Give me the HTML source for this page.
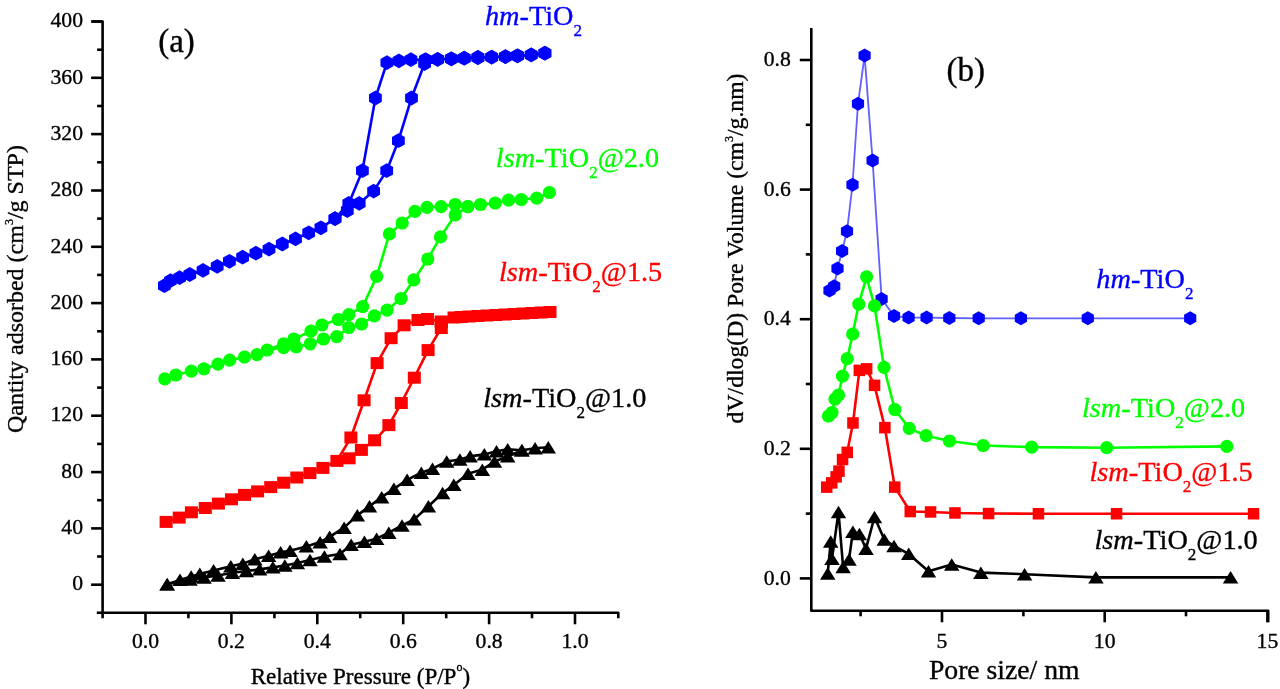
<!DOCTYPE html>
<html><head><meta charset="utf-8"><style>
html,body{margin:0;padding:0;background:#fff;width:1280px;height:689px;overflow:hidden;}
svg{display:block;filter:blur(0.4px);}
text{font-family:"Liberation Serif",serif;stroke:#000;stroke-width:0.35px;}
.tk{font-size:21.7px;}
</style></head><body>
<svg width="1280" height="689" viewBox="0 0 1280 689">
<rect width="1280" height="689" fill="#fff"/>
<path d="M91.6,21.5 L102.6,21.5 L102.6,618.3" fill="none" stroke="#000" stroke-width="2.6" stroke-linejoin="round"/>
<path d="M96.8,612.8 L618.3,612.8 L618.3,618.3" fill="none" stroke="#000" stroke-width="2.6" stroke-linejoin="round"/>
<line x1="91.1" y1="584.7" x2="102.6" y2="584.7" stroke="#000" stroke-width="2.6"/>
<text x="83" y="590.4" text-anchor="end" class="tk">0</text>
<line x1="91.1" y1="528.4" x2="102.6" y2="528.4" stroke="#000" stroke-width="2.6"/>
<text x="83" y="534.1" text-anchor="end" class="tk">40</text>
<line x1="91.1" y1="472.1" x2="102.6" y2="472.1" stroke="#000" stroke-width="2.6"/>
<text x="83" y="477.8" text-anchor="end" class="tk">80</text>
<line x1="91.1" y1="415.7" x2="102.6" y2="415.7" stroke="#000" stroke-width="2.6"/>
<text x="83" y="421.4" text-anchor="end" class="tk">120</text>
<line x1="91.1" y1="359.4" x2="102.6" y2="359.4" stroke="#000" stroke-width="2.6"/>
<text x="83" y="365.1" text-anchor="end" class="tk">160</text>
<line x1="91.1" y1="303.1" x2="102.6" y2="303.1" stroke="#000" stroke-width="2.6"/>
<text x="83" y="308.8" text-anchor="end" class="tk">200</text>
<line x1="91.1" y1="246.8" x2="102.6" y2="246.8" stroke="#000" stroke-width="2.6"/>
<text x="83" y="252.5" text-anchor="end" class="tk">240</text>
<line x1="91.1" y1="190.5" x2="102.6" y2="190.5" stroke="#000" stroke-width="2.6"/>
<text x="83" y="196.2" text-anchor="end" class="tk">280</text>
<line x1="91.1" y1="134.1" x2="102.6" y2="134.1" stroke="#000" stroke-width="2.6"/>
<text x="83" y="139.8" text-anchor="end" class="tk">320</text>
<line x1="91.1" y1="77.8" x2="102.6" y2="77.8" stroke="#000" stroke-width="2.6"/>
<text x="83" y="83.5" text-anchor="end" class="tk">360</text>
<line x1="91.1" y1="21.5" x2="102.6" y2="21.5" stroke="#000" stroke-width="2.6"/>
<text x="83" y="27.2" text-anchor="end" class="tk">400</text>
<line x1="97.1" y1="556.5" x2="102.6" y2="556.5" stroke="#000" stroke-width="2.6"/>
<line x1="97.1" y1="500.2" x2="102.6" y2="500.2" stroke="#000" stroke-width="2.6"/>
<line x1="97.1" y1="443.9" x2="102.6" y2="443.9" stroke="#000" stroke-width="2.6"/>
<line x1="97.1" y1="387.6" x2="102.6" y2="387.6" stroke="#000" stroke-width="2.6"/>
<line x1="97.1" y1="331.3" x2="102.6" y2="331.3" stroke="#000" stroke-width="2.6"/>
<line x1="97.1" y1="274.9" x2="102.6" y2="274.9" stroke="#000" stroke-width="2.6"/>
<line x1="97.1" y1="218.6" x2="102.6" y2="218.6" stroke="#000" stroke-width="2.6"/>
<line x1="97.1" y1="162.3" x2="102.6" y2="162.3" stroke="#000" stroke-width="2.6"/>
<line x1="97.1" y1="106" x2="102.6" y2="106" stroke="#000" stroke-width="2.6"/>
<line x1="97.1" y1="49.7" x2="102.6" y2="49.7" stroke="#000" stroke-width="2.6"/>
<line x1="145.5" y1="612.8" x2="145.5" y2="624.3" stroke="#000" stroke-width="2.6"/>
<text x="145.5" y="648.3" text-anchor="middle" class="tk">0.0</text>
<line x1="231.4" y1="612.8" x2="231.4" y2="624.3" stroke="#000" stroke-width="2.6"/>
<text x="231.4" y="648.3" text-anchor="middle" class="tk">0.2</text>
<line x1="317.3" y1="612.8" x2="317.3" y2="624.3" stroke="#000" stroke-width="2.6"/>
<text x="317.3" y="648.3" text-anchor="middle" class="tk">0.4</text>
<line x1="403.2" y1="612.8" x2="403.2" y2="624.3" stroke="#000" stroke-width="2.6"/>
<text x="403.2" y="648.3" text-anchor="middle" class="tk">0.6</text>
<line x1="489.1" y1="612.8" x2="489.1" y2="624.3" stroke="#000" stroke-width="2.6"/>
<text x="489.1" y="648.3" text-anchor="middle" class="tk">0.8</text>
<line x1="575" y1="612.8" x2="575" y2="624.3" stroke="#000" stroke-width="2.6"/>
<text x="575" y="648.3" text-anchor="middle" class="tk">1.0</text>
<line x1="188.4" y1="612.8" x2="188.4" y2="618.3" stroke="#000" stroke-width="2.6"/>
<line x1="274.4" y1="612.8" x2="274.4" y2="618.3" stroke="#000" stroke-width="2.6"/>
<line x1="360.2" y1="612.8" x2="360.2" y2="618.3" stroke="#000" stroke-width="2.6"/>
<line x1="446.2" y1="612.8" x2="446.2" y2="618.3" stroke="#000" stroke-width="2.6"/>
<line x1="532" y1="612.8" x2="532" y2="618.3" stroke="#000" stroke-width="2.6"/>
<path d="M811.3,28 L811.3,610.8 L1268.2,610.8 L1268.2,622.3" fill="none" stroke="#000" stroke-width="2.6" stroke-linejoin="round"/>
<line x1="799.8" y1="578.4" x2="811.3" y2="578.4" stroke="#000" stroke-width="2.6"/>
<text x="790.8" y="584.6" text-anchor="end" class="tk">0.0</text>
<line x1="799.8" y1="448.8" x2="811.3" y2="448.8" stroke="#000" stroke-width="2.6"/>
<text x="790.8" y="455" text-anchor="end" class="tk">0.2</text>
<line x1="799.8" y1="319.2" x2="811.3" y2="319.2" stroke="#000" stroke-width="2.6"/>
<text x="790.8" y="325.4" text-anchor="end" class="tk">0.4</text>
<line x1="799.8" y1="189.6" x2="811.3" y2="189.6" stroke="#000" stroke-width="2.6"/>
<text x="790.8" y="195.8" text-anchor="end" class="tk">0.6</text>
<line x1="799.8" y1="60" x2="811.3" y2="60" stroke="#000" stroke-width="2.6"/>
<text x="790.8" y="66.2" text-anchor="end" class="tk">0.8</text>
<line x1="805.8" y1="513.6" x2="811.3" y2="513.6" stroke="#000" stroke-width="2.6"/>
<line x1="805.8" y1="384" x2="811.3" y2="384" stroke="#000" stroke-width="2.6"/>
<line x1="805.8" y1="254.4" x2="811.3" y2="254.4" stroke="#000" stroke-width="2.6"/>
<line x1="805.8" y1="124.8" x2="811.3" y2="124.8" stroke="#000" stroke-width="2.6"/>
<line x1="942" y1="610.8" x2="942" y2="622.3" stroke="#000" stroke-width="2.6"/>
<text x="942" y="648" text-anchor="middle" class="tk">5</text>
<line x1="1104.7" y1="610.8" x2="1104.7" y2="622.3" stroke="#000" stroke-width="2.6"/>
<text x="1104.7" y="648" text-anchor="middle" class="tk">10</text>
<line x1="1267.4" y1="610.8" x2="1267.4" y2="622.3" stroke="#000" stroke-width="2.6"/>
<text x="1267.4" y="648" text-anchor="middle" class="tk">15</text>
<line x1="860.6" y1="610.8" x2="860.6" y2="616.3" stroke="#000" stroke-width="2.6"/>
<line x1="1023.4" y1="610.8" x2="1023.4" y2="616.3" stroke="#000" stroke-width="2.6"/>
<line x1="1186" y1="610.8" x2="1186" y2="616.3" stroke="#000" stroke-width="2.6"/>
<polyline points="164.4,285.7 170.5,280.6 179.6,277.6 189.8,274.5 203,270.4 217.2,266.4 229.4,261.3 242.6,257.2 255.9,253.2 269,249.1 282.3,244 295.5,238.9 308.7,232.8 320.9,227.8 335,218.6 348.8,203.4 362.4,170.7 375.4,98 386.9,62.6 398.9,60.9 410.9,59.6 425.5,59.8 437.6,59.4 451.3,58.8 464.2,58.2 477.9,57.5 491.7,57.1 505.4,56.6 517.5,55.8 531.2,54.9 544.9,53.2" fill="none" stroke="#0000ff" stroke-width="2.6" stroke-linejoin="round" stroke-linecap="round"/>
<polyline points="544.9,53.2 531.2,54.9 517.5,55.8 505.4,56.6 491.7,57.1 477.9,57.5 464.2,58.2 451.3,58.8 437.6,59.4 425.5,59.8 424.6,63.5 411.5,98 398.4,140.7 386.7,170.7 373.6,191.1 359.2,203.4 347.3,210.5 335,218.6" fill="none" stroke="#0000ff" stroke-width="2.6" stroke-linejoin="round" stroke-linecap="round"/>
<polygon points="164.4,278.3 158,282 158,289.4 164.4,293.1 170.8,289.4 170.8,282" fill="#0000ff"/>
<polygon points="170.5,273.2 164.1,276.9 164.1,284.3 170.5,288 176.9,284.3 176.9,276.9" fill="#0000ff"/>
<polygon points="179.6,270.2 173.2,273.9 173.2,281.3 179.6,285 186,281.3 186,273.9" fill="#0000ff"/>
<polygon points="189.8,267.1 183.4,270.8 183.4,278.2 189.8,281.9 196.2,278.2 196.2,270.8" fill="#0000ff"/>
<polygon points="203,263 196.6,266.7 196.6,274.1 203,277.8 209.4,274.1 209.4,266.7" fill="#0000ff"/>
<polygon points="217.2,259 210.8,262.7 210.8,270.1 217.2,273.8 223.6,270.1 223.6,262.7" fill="#0000ff"/>
<polygon points="229.4,253.9 223,257.6 223,265 229.4,268.7 235.8,265 235.8,257.6" fill="#0000ff"/>
<polygon points="242.6,249.8 236.2,253.5 236.2,260.9 242.6,264.6 249,260.9 249,253.5" fill="#0000ff"/>
<polygon points="255.9,245.8 249.5,249.5 249.5,256.9 255.9,260.6 262.3,256.9 262.3,249.5" fill="#0000ff"/>
<polygon points="269,241.7 262.6,245.4 262.6,252.8 269,256.5 275.4,252.8 275.4,245.4" fill="#0000ff"/>
<polygon points="282.3,236.6 275.9,240.3 275.9,247.7 282.3,251.4 288.7,247.7 288.7,240.3" fill="#0000ff"/>
<polygon points="295.5,231.5 289.1,235.2 289.1,242.6 295.5,246.3 301.9,242.6 301.9,235.2" fill="#0000ff"/>
<polygon points="308.7,225.4 302.3,229.1 302.3,236.5 308.7,240.2 315.1,236.5 315.1,229.1" fill="#0000ff"/>
<polygon points="320.9,220.4 314.5,224.1 314.5,231.5 320.9,235.2 327.3,231.5 327.3,224.1" fill="#0000ff"/>
<polygon points="335,211.2 328.6,214.9 328.6,222.3 335,226 341.4,222.3 341.4,214.9" fill="#0000ff"/>
<polygon points="348.8,196 342.4,199.7 342.4,207.1 348.8,210.8 355.2,207.1 355.2,199.7" fill="#0000ff"/>
<polygon points="362.4,163.3 356,167 356,174.4 362.4,178.1 368.8,174.4 368.8,167" fill="#0000ff"/>
<polygon points="375.4,90.6 369,94.3 369,101.7 375.4,105.4 381.8,101.7 381.8,94.3" fill="#0000ff"/>
<polygon points="386.9,55.2 380.5,58.9 380.5,66.3 386.9,70 393.3,66.3 393.3,58.9" fill="#0000ff"/>
<polygon points="398.9,53.5 392.5,57.2 392.5,64.6 398.9,68.3 405.3,64.6 405.3,57.2" fill="#0000ff"/>
<polygon points="410.9,52.2 404.5,55.9 404.5,63.3 410.9,67 417.3,63.3 417.3,55.9" fill="#0000ff"/>
<polygon points="425.5,52.4 419.1,56.1 419.1,63.5 425.5,67.2 431.9,63.5 431.9,56.1" fill="#0000ff"/>
<polygon points="437.6,52 431.2,55.7 431.2,63.1 437.6,66.8 444,63.1 444,55.7" fill="#0000ff"/>
<polygon points="451.3,51.4 444.9,55.1 444.9,62.5 451.3,66.2 457.7,62.5 457.7,55.1" fill="#0000ff"/>
<polygon points="464.2,50.8 457.8,54.5 457.8,61.9 464.2,65.6 470.6,61.9 470.6,54.5" fill="#0000ff"/>
<polygon points="477.9,50.1 471.5,53.8 471.5,61.2 477.9,64.9 484.3,61.2 484.3,53.8" fill="#0000ff"/>
<polygon points="491.7,49.7 485.3,53.4 485.3,60.8 491.7,64.5 498.1,60.8 498.1,53.4" fill="#0000ff"/>
<polygon points="505.4,49.2 499,52.9 499,60.3 505.4,64 511.8,60.3 511.8,52.9" fill="#0000ff"/>
<polygon points="517.5,48.4 511.1,52.1 511.1,59.5 517.5,63.2 523.9,59.5 523.9,52.1" fill="#0000ff"/>
<polygon points="531.2,47.5 524.8,51.2 524.8,58.6 531.2,62.3 537.6,58.6 537.6,51.2" fill="#0000ff"/>
<polygon points="544.9,45.8 538.5,49.5 538.5,56.9 544.9,60.6 551.3,56.9 551.3,49.5" fill="#0000ff"/>
<polygon points="544.9,45.8 538.5,49.5 538.5,56.9 544.9,60.6 551.3,56.9 551.3,49.5" fill="#0000ff"/>
<polygon points="531.2,47.5 524.8,51.2 524.8,58.6 531.2,62.3 537.6,58.6 537.6,51.2" fill="#0000ff"/>
<polygon points="517.5,48.4 511.1,52.1 511.1,59.5 517.5,63.2 523.9,59.5 523.9,52.1" fill="#0000ff"/>
<polygon points="505.4,49.2 499,52.9 499,60.3 505.4,64 511.8,60.3 511.8,52.9" fill="#0000ff"/>
<polygon points="491.7,49.7 485.3,53.4 485.3,60.8 491.7,64.5 498.1,60.8 498.1,53.4" fill="#0000ff"/>
<polygon points="477.9,50.1 471.5,53.8 471.5,61.2 477.9,64.9 484.3,61.2 484.3,53.8" fill="#0000ff"/>
<polygon points="464.2,50.8 457.8,54.5 457.8,61.9 464.2,65.6 470.6,61.9 470.6,54.5" fill="#0000ff"/>
<polygon points="451.3,51.4 444.9,55.1 444.9,62.5 451.3,66.2 457.7,62.5 457.7,55.1" fill="#0000ff"/>
<polygon points="437.6,52 431.2,55.7 431.2,63.1 437.6,66.8 444,63.1 444,55.7" fill="#0000ff"/>
<polygon points="425.5,52.4 419.1,56.1 419.1,63.5 425.5,67.2 431.9,63.5 431.9,56.1" fill="#0000ff"/>
<polygon points="424.6,56.1 418.2,59.8 418.2,67.2 424.6,70.9 431,67.2 431,59.8" fill="#0000ff"/>
<polygon points="411.5,90.6 405.1,94.3 405.1,101.7 411.5,105.4 417.9,101.7 417.9,94.3" fill="#0000ff"/>
<polygon points="398.4,133.3 392,137 392,144.4 398.4,148.1 404.8,144.4 404.8,137" fill="#0000ff"/>
<polygon points="386.7,163.3 380.3,167 380.3,174.4 386.7,178.1 393.1,174.4 393.1,167" fill="#0000ff"/>
<polygon points="373.6,183.7 367.2,187.4 367.2,194.8 373.6,198.5 380,194.8 380,187.4" fill="#0000ff"/>
<polygon points="359.2,196 352.8,199.7 352.8,207.1 359.2,210.8 365.6,207.1 365.6,199.7" fill="#0000ff"/>
<polygon points="347.3,203.1 340.9,206.8 340.9,214.2 347.3,217.9 353.7,214.2 353.7,206.8" fill="#0000ff"/>
<polygon points="335,211.2 328.6,214.9 328.6,222.3 335,226 341.4,222.3 341.4,214.9" fill="#0000ff"/>
<polyline points="164.8,378.9 175.8,375 191.4,371.1 203.9,368.8 218,364.1 229.7,360.2 244.5,357 257,354.7 267.2,350 283.6,343.8 293.8,339 311,331.2 321.9,325 338.3,319.5 348.8,314.7 362.7,306.6 376.7,276.4 389.4,233.9 402.2,223 415,211.4 427,207.3 441.1,206.6 455.2,204.5 467.8,206.6 480.5,204.5 495.2,203 508.6,200.2 521.3,199.5 536.7,198.1 549.4,192.5" fill="none" stroke="#00ff00" stroke-width="2.6" stroke-linejoin="round" stroke-linecap="round"/>
<polyline points="267.2,350 283.6,347.7 296.1,346.9 310.2,343.8 323.4,339 336.7,336.7 348.8,327.5 361.6,324 374.3,315.9 387.1,310.1 401,298.5 413.8,279.9 427.8,259 440.5,236.9 455.2,215 467.8,206.6" fill="none" stroke="#00ff00" stroke-width="2.6" stroke-linejoin="round" stroke-linecap="round"/>
<circle cx="164.8" cy="378.9" r="6.6" fill="#00ff00"/>
<circle cx="175.8" cy="375" r="6.6" fill="#00ff00"/>
<circle cx="191.4" cy="371.1" r="6.6" fill="#00ff00"/>
<circle cx="203.9" cy="368.8" r="6.6" fill="#00ff00"/>
<circle cx="218" cy="364.1" r="6.6" fill="#00ff00"/>
<circle cx="229.7" cy="360.2" r="6.6" fill="#00ff00"/>
<circle cx="244.5" cy="357" r="6.6" fill="#00ff00"/>
<circle cx="257" cy="354.7" r="6.6" fill="#00ff00"/>
<circle cx="267.2" cy="350" r="6.6" fill="#00ff00"/>
<circle cx="283.6" cy="343.8" r="6.6" fill="#00ff00"/>
<circle cx="293.8" cy="339" r="6.6" fill="#00ff00"/>
<circle cx="311" cy="331.2" r="6.6" fill="#00ff00"/>
<circle cx="321.9" cy="325" r="6.6" fill="#00ff00"/>
<circle cx="338.3" cy="319.5" r="6.6" fill="#00ff00"/>
<circle cx="348.8" cy="314.7" r="6.6" fill="#00ff00"/>
<circle cx="362.7" cy="306.6" r="6.6" fill="#00ff00"/>
<circle cx="376.7" cy="276.4" r="6.6" fill="#00ff00"/>
<circle cx="389.4" cy="233.9" r="6.6" fill="#00ff00"/>
<circle cx="402.2" cy="223" r="6.6" fill="#00ff00"/>
<circle cx="415" cy="211.4" r="6.6" fill="#00ff00"/>
<circle cx="427" cy="207.3" r="6.6" fill="#00ff00"/>
<circle cx="441.1" cy="206.6" r="6.6" fill="#00ff00"/>
<circle cx="455.2" cy="204.5" r="6.6" fill="#00ff00"/>
<circle cx="467.8" cy="206.6" r="6.6" fill="#00ff00"/>
<circle cx="480.5" cy="204.5" r="6.6" fill="#00ff00"/>
<circle cx="495.2" cy="203" r="6.6" fill="#00ff00"/>
<circle cx="508.6" cy="200.2" r="6.6" fill="#00ff00"/>
<circle cx="521.3" cy="199.5" r="6.6" fill="#00ff00"/>
<circle cx="536.7" cy="198.1" r="6.6" fill="#00ff00"/>
<circle cx="549.4" cy="192.5" r="6.6" fill="#00ff00"/>
<circle cx="283.6" cy="347.7" r="6.6" fill="#00ff00"/>
<circle cx="296.1" cy="346.9" r="6.6" fill="#00ff00"/>
<circle cx="310.2" cy="343.8" r="6.6" fill="#00ff00"/>
<circle cx="323.4" cy="339" r="6.6" fill="#00ff00"/>
<circle cx="336.7" cy="336.7" r="6.6" fill="#00ff00"/>
<circle cx="348.8" cy="327.5" r="6.6" fill="#00ff00"/>
<circle cx="361.6" cy="324" r="6.6" fill="#00ff00"/>
<circle cx="374.3" cy="315.9" r="6.6" fill="#00ff00"/>
<circle cx="387.1" cy="310.1" r="6.6" fill="#00ff00"/>
<circle cx="401" cy="298.5" r="6.6" fill="#00ff00"/>
<circle cx="413.8" cy="279.9" r="6.6" fill="#00ff00"/>
<circle cx="427.8" cy="259" r="6.6" fill="#00ff00"/>
<circle cx="440.5" cy="236.9" r="6.6" fill="#00ff00"/>
<circle cx="455.2" cy="215" r="6.6" fill="#00ff00"/>
<circle cx="467.8" cy="206.6" r="6.6" fill="#00ff00"/>
<polyline points="166.1,521.9 179.2,517.6 191.4,512.3 205.3,508 218.4,503.6 231.5,499.3 244.5,494.9 257.6,491.4 270.7,487.1 283.7,482.7 296.8,477.5 309.9,473.1 322.9,467.9 336.9,460.9 350.9,437.5 364.1,400.3 377.1,363.1 391.1,338.2 404.1,325.3 418,320 427.5,319 441.3,321.7 454,317.5 461,317 469,316.5 478,316 487,315.5 496,315 505,314.5 514,314 523,313.5 532,313 541,312.5 550,312" fill="none" stroke="#ff0000" stroke-width="2.6" stroke-linejoin="round" stroke-linecap="round"/>
<polyline points="336.9,460.9 349.1,458.3 361.4,449.9 374.6,440.3 388.9,425.1 401.3,403 414.3,377.7 428.1,350.1 441.3,328 441.3,321.7" fill="none" stroke="#ff0000" stroke-width="2.6" stroke-linejoin="round" stroke-linecap="round"/>
<rect x="159.6" y="515.9" width="13" height="12" fill="#ff0000"/>
<rect x="172.7" y="511.6" width="13" height="12" fill="#ff0000"/>
<rect x="184.9" y="506.3" width="13" height="12" fill="#ff0000"/>
<rect x="198.8" y="502" width="13" height="12" fill="#ff0000"/>
<rect x="211.9" y="497.6" width="13" height="12" fill="#ff0000"/>
<rect x="225" y="493.3" width="13" height="12" fill="#ff0000"/>
<rect x="238" y="488.9" width="13" height="12" fill="#ff0000"/>
<rect x="251.1" y="485.4" width="13" height="12" fill="#ff0000"/>
<rect x="264.2" y="481.1" width="13" height="12" fill="#ff0000"/>
<rect x="277.2" y="476.7" width="13" height="12" fill="#ff0000"/>
<rect x="290.3" y="471.5" width="13" height="12" fill="#ff0000"/>
<rect x="303.4" y="467.1" width="13" height="12" fill="#ff0000"/>
<rect x="316.4" y="461.9" width="13" height="12" fill="#ff0000"/>
<rect x="330.4" y="454.9" width="13" height="12" fill="#ff0000"/>
<rect x="344.4" y="431.5" width="13" height="12" fill="#ff0000"/>
<rect x="357.6" y="394.3" width="13" height="12" fill="#ff0000"/>
<rect x="370.6" y="357.1" width="13" height="12" fill="#ff0000"/>
<rect x="384.6" y="332.2" width="13" height="12" fill="#ff0000"/>
<rect x="397.6" y="319.3" width="13" height="12" fill="#ff0000"/>
<rect x="411.5" y="314" width="13" height="12" fill="#ff0000"/>
<rect x="421" y="313" width="13" height="12" fill="#ff0000"/>
<rect x="434.8" y="315.7" width="13" height="12" fill="#ff0000"/>
<rect x="447.5" y="311.5" width="13" height="12" fill="#ff0000"/>
<rect x="454.5" y="311" width="13" height="12" fill="#ff0000"/>
<rect x="462.5" y="310.5" width="13" height="12" fill="#ff0000"/>
<rect x="471.5" y="310" width="13" height="12" fill="#ff0000"/>
<rect x="480.5" y="309.5" width="13" height="12" fill="#ff0000"/>
<rect x="489.5" y="309" width="13" height="12" fill="#ff0000"/>
<rect x="498.5" y="308.5" width="13" height="12" fill="#ff0000"/>
<rect x="507.5" y="308" width="13" height="12" fill="#ff0000"/>
<rect x="516.5" y="307.5" width="13" height="12" fill="#ff0000"/>
<rect x="525.5" y="307" width="13" height="12" fill="#ff0000"/>
<rect x="534.5" y="306.5" width="13" height="12" fill="#ff0000"/>
<rect x="543.5" y="306" width="13" height="12" fill="#ff0000"/>
<rect x="342.6" y="452.3" width="13" height="12" fill="#ff0000"/>
<rect x="354.9" y="443.9" width="13" height="12" fill="#ff0000"/>
<rect x="368.1" y="434.3" width="13" height="12" fill="#ff0000"/>
<rect x="382.4" y="419.1" width="13" height="12" fill="#ff0000"/>
<rect x="394.8" y="397" width="13" height="12" fill="#ff0000"/>
<rect x="407.8" y="371.7" width="13" height="12" fill="#ff0000"/>
<rect x="421.6" y="344.1" width="13" height="12" fill="#ff0000"/>
<rect x="434.8" y="322" width="13" height="12" fill="#ff0000"/>
<rect x="434.8" y="315.7" width="13" height="12" fill="#ff0000"/>
<polyline points="167.2,584.2 180,579.9 191.2,576.5 199.8,573.9 213.6,570.4 230.8,566.2 242.8,563.6 254.8,559.3 268.6,555.8 280.6,552.4 290,550.7 306.4,546.4 320.1,542.1 329.6,536.9 344.1,527.6 357.3,515.4 369.5,506.2 381.7,497.1 393.9,488.9 407.1,479.8 421.3,472.7 432.5,468.6 446.7,461.5 459.9,459.5 470.1,456.4 484.3,454.4 496.5,451.3 507.7,449.3 521.9,450.3 535.1,448.3 548.3,447.3" fill="none" stroke="#000000" stroke-width="2.6" stroke-linejoin="round" stroke-linecap="round"/>
<polyline points="167.2,584.2 190,579.5 204,577.5 218,575.5 232.4,572.8 246.3,571 259.6,569.4 272.9,567.4 284.8,565.5 297.4,563 310,560 324.4,556.5 340,554 351.2,544.8 364.4,541.8 376.6,538.7 388.8,532.6 402,525.5 414.2,519.4 428.4,506.2 442.6,493 453.8,484.9 468,473.7 482.3,469.6 494.5,461.5 507.7,456.4 521.9,450.3" fill="none" stroke="#000000" stroke-width="2.6" stroke-linejoin="round" stroke-linecap="round"/>
<polygon points="167.2,578 174.9,590.5 159.4,590.5" fill="#000000"/>
<polygon points="180,573.6 187.8,586.1 172.2,586.1" fill="#000000"/>
<polygon points="191.2,570.2 198.9,582.8 183.4,582.8" fill="#000000"/>
<polygon points="199.8,567.6 207.6,580.1 192.1,580.1" fill="#000000"/>
<polygon points="213.6,564.1 221.3,576.6 205.8,576.6" fill="#000000"/>
<polygon points="230.8,560 238.6,572.5 223.1,572.5" fill="#000000"/>
<polygon points="242.8,557.4 250.6,569.9 235.1,569.9" fill="#000000"/>
<polygon points="254.8,553 262.6,565.5 247.1,565.5" fill="#000000"/>
<polygon points="268.6,549.5 276.4,562 260.9,562" fill="#000000"/>
<polygon points="280.6,546.1 288.4,558.6 272.9,558.6" fill="#000000"/>
<polygon points="290,544.5 297.8,557 282.2,557" fill="#000000"/>
<polygon points="306.4,540.1 314.1,552.6 298.6,552.6" fill="#000000"/>
<polygon points="320.1,535.9 327.9,548.4 312.4,548.4" fill="#000000"/>
<polygon points="329.6,530.6 337.4,543.1 321.9,543.1" fill="#000000"/>
<polygon points="344.1,521.4 351.9,533.9 336.4,533.9" fill="#000000"/>
<polygon points="357.3,509.1 365.1,521.6 349.6,521.6" fill="#000000"/>
<polygon points="369.5,499.9 377.2,512.5 361.8,512.5" fill="#000000"/>
<polygon points="381.7,490.9 389.4,503.4 373.9,503.4" fill="#000000"/>
<polygon points="393.9,482.6 401.6,495.1 386.1,495.1" fill="#000000"/>
<polygon points="407.1,473.6 414.9,486.1 399.4,486.1" fill="#000000"/>
<polygon points="421.3,466.4 429.1,478.9 413.6,478.9" fill="#000000"/>
<polygon points="432.5,462.4 440.2,474.9 424.8,474.9" fill="#000000"/>
<polygon points="446.7,455.2 454.4,467.8 438.9,467.8" fill="#000000"/>
<polygon points="459.9,453.2 467.6,465.8 452.1,465.8" fill="#000000"/>
<polygon points="470.1,450.1 477.9,462.6 462.4,462.6" fill="#000000"/>
<polygon points="484.3,448.1 492.1,460.6 476.6,460.6" fill="#000000"/>
<polygon points="496.5,445.1 504.2,457.6 488.8,457.6" fill="#000000"/>
<polygon points="507.7,443.1 515.5,455.6 499.9,455.6" fill="#000000"/>
<polygon points="521.9,444.1 529.6,456.6 514.1,456.6" fill="#000000"/>
<polygon points="535.1,442.1 542.9,454.6 527.4,454.6" fill="#000000"/>
<polygon points="548.3,441.1 556,453.6 540.5,453.6" fill="#000000"/>
<polygon points="167.2,578 174.9,590.5 159.4,590.5" fill="#000000"/>
<polygon points="190,573.2 197.8,585.8 182.2,585.8" fill="#000000"/>
<polygon points="204,571.2 211.8,583.8 196.2,583.8" fill="#000000"/>
<polygon points="218,569.2 225.8,581.8 210.2,581.8" fill="#000000"/>
<polygon points="232.4,566.5 240.2,579 224.7,579" fill="#000000"/>
<polygon points="246.3,564.8 254.1,577.2 238.6,577.2" fill="#000000"/>
<polygon points="259.6,563.1 267.4,575.6 251.9,575.6" fill="#000000"/>
<polygon points="272.9,561.1 280.6,573.6 265.1,573.6" fill="#000000"/>
<polygon points="284.8,559.2 292.6,571.8 277.1,571.8" fill="#000000"/>
<polygon points="297.4,556.8 305.1,569.2 289.6,569.2" fill="#000000"/>
<polygon points="310,553.8 317.8,566.2 302.2,566.2" fill="#000000"/>
<polygon points="324.4,550.2 332.1,562.8 316.6,562.8" fill="#000000"/>
<polygon points="340,547.8 347.8,560.2 332.2,560.2" fill="#000000"/>
<polygon points="351.2,538.5 358.9,551 343.4,551" fill="#000000"/>
<polygon points="364.4,535.5 372.1,548 356.6,548" fill="#000000"/>
<polygon points="376.6,532.5 384.4,545 368.9,545" fill="#000000"/>
<polygon points="388.8,526.4 396.6,538.9 381.1,538.9" fill="#000000"/>
<polygon points="402,519.2 409.8,531.8 394.2,531.8" fill="#000000"/>
<polygon points="414.2,513.1 421.9,525.6 406.4,525.6" fill="#000000"/>
<polygon points="428.4,499.9 436.1,512.5 420.6,512.5" fill="#000000"/>
<polygon points="442.6,486.8 450.4,499.2 434.9,499.2" fill="#000000"/>
<polygon points="453.8,478.6 461.6,491.1 446.1,491.1" fill="#000000"/>
<polygon points="468,467.4 475.8,479.9 460.2,479.9" fill="#000000"/>
<polygon points="482.3,463.4 490.1,475.9 474.6,475.9" fill="#000000"/>
<polygon points="494.5,455.2 502.2,467.8 486.8,467.8" fill="#000000"/>
<polygon points="507.7,450.1 515.5,462.6 499.9,462.6" fill="#000000"/>
<polygon points="521.9,444.1 529.6,456.6 514.1,456.6" fill="#000000"/>
<polyline points="829.5,290.6 834.2,286.2 837.5,268.4 842.1,251 847,231.2 852.5,184.8 858,103.8 864.6,55.6 872.6,160.6 881.6,298.9 894,316 908.6,317.6 926.6,317.6 949.3,318 978.7,318.3 1020.9,318.3 1087.8,318.3 1190.2,318.3" fill="none" stroke="#6060ff" stroke-width="1.8" stroke-linejoin="round" stroke-linecap="round"/>
<polygon points="829.5,283.6 823.4,287.1 823.4,294.1 829.5,297.6 835.6,294.1 835.6,287.1" fill="#0000ff"/>
<polygon points="834.2,279.2 828.1,282.7 828.1,289.7 834.2,293.2 840.3,289.7 840.3,282.7" fill="#0000ff"/>
<polygon points="837.5,261.4 831.4,264.9 831.4,271.9 837.5,275.4 843.6,271.9 843.6,264.9" fill="#0000ff"/>
<polygon points="842.1,244 836,247.5 836,254.5 842.1,258 848.2,254.5 848.2,247.5" fill="#0000ff"/>
<polygon points="847,224.2 840.9,227.7 840.9,234.7 847,238.2 853.1,234.7 853.1,227.7" fill="#0000ff"/>
<polygon points="852.5,177.8 846.4,181.3 846.4,188.3 852.5,191.8 858.6,188.3 858.6,181.3" fill="#0000ff"/>
<polygon points="858,96.8 851.9,100.3 851.9,107.3 858,110.8 864.1,107.3 864.1,100.3" fill="#0000ff"/>
<polygon points="864.6,48.6 858.5,52.1 858.5,59.1 864.6,62.6 870.7,59.1 870.7,52.1" fill="#0000ff"/>
<polygon points="872.6,153.6 866.5,157.1 866.5,164.1 872.6,167.6 878.7,164.1 878.7,157.1" fill="#0000ff"/>
<polygon points="881.6,291.9 875.5,295.4 875.5,302.4 881.6,305.9 887.7,302.4 887.7,295.4" fill="#0000ff"/>
<polygon points="894,309 887.9,312.5 887.9,319.5 894,323 900.1,319.5 900.1,312.5" fill="#0000ff"/>
<polygon points="908.6,310.6 902.5,314.1 902.5,321.1 908.6,324.6 914.7,321.1 914.7,314.1" fill="#0000ff"/>
<polygon points="926.6,310.6 920.5,314.1 920.5,321.1 926.6,324.6 932.7,321.1 932.7,314.1" fill="#0000ff"/>
<polygon points="949.3,311 943.2,314.5 943.2,321.5 949.3,325 955.4,321.5 955.4,314.5" fill="#0000ff"/>
<polygon points="978.7,311.3 972.6,314.8 972.6,321.8 978.7,325.3 984.8,321.8 984.8,314.8" fill="#0000ff"/>
<polygon points="1020.9,311.3 1014.8,314.8 1014.8,321.8 1020.9,325.3 1027,321.8 1027,314.8" fill="#0000ff"/>
<polygon points="1087.8,311.3 1081.7,314.8 1081.7,321.8 1087.8,325.3 1093.9,321.8 1093.9,314.8" fill="#0000ff"/>
<polygon points="1190.2,311.3 1184.1,314.8 1184.1,321.8 1190.2,325.3 1196.3,321.8 1196.3,314.8" fill="#0000ff"/>
<polyline points="828.5,416 832,412.5 835,399 838.5,395 842.5,376.1 847.2,358.7 852.7,334 858.8,304.1 866.6,276.8 874.5,305.9 884,367.4 894.8,409.5 909.3,428.4 926.1,435.7 949.5,441 983.1,445.5 1031.7,447.1 1106.7,447.7 1226.8,446.4" fill="none" stroke="#00ff00" stroke-width="2.6" stroke-linejoin="round" stroke-linecap="round"/>
<circle cx="828.5" cy="416" r="6.6" fill="#00ff00"/>
<circle cx="832" cy="412.5" r="6.6" fill="#00ff00"/>
<circle cx="835" cy="399" r="6.6" fill="#00ff00"/>
<circle cx="838.5" cy="395" r="6.6" fill="#00ff00"/>
<circle cx="842.5" cy="376.1" r="6.6" fill="#00ff00"/>
<circle cx="847.2" cy="358.7" r="6.6" fill="#00ff00"/>
<circle cx="852.7" cy="334" r="6.6" fill="#00ff00"/>
<circle cx="858.8" cy="304.1" r="6.6" fill="#00ff00"/>
<circle cx="866.6" cy="276.8" r="6.6" fill="#00ff00"/>
<circle cx="874.5" cy="305.9" r="6.6" fill="#00ff00"/>
<circle cx="884" cy="367.4" r="6.6" fill="#00ff00"/>
<circle cx="894.8" cy="409.5" r="6.6" fill="#00ff00"/>
<circle cx="909.3" cy="428.4" r="6.6" fill="#00ff00"/>
<circle cx="926.1" cy="435.7" r="6.6" fill="#00ff00"/>
<circle cx="949.5" cy="441" r="6.6" fill="#00ff00"/>
<circle cx="983.1" cy="445.5" r="6.6" fill="#00ff00"/>
<circle cx="1031.7" cy="447.1" r="6.6" fill="#00ff00"/>
<circle cx="1106.7" cy="447.7" r="6.6" fill="#00ff00"/>
<circle cx="1226.8" cy="446.4" r="6.6" fill="#00ff00"/>
<polyline points="826.8,487.1 831.8,482.8 836.1,476.9 839,471.1 842.5,459.5 847.2,452.3 853,423 859.4,370.3 866.6,368.9 874.5,385.4 884.9,427.7 894.8,487.1 910.2,511.5 930.5,512 955,513 988.5,513.5 1038.4,513.7 1116.6,513.8 1253.5,513.8" fill="none" stroke="#ff0000" stroke-width="2.6" stroke-linejoin="round" stroke-linecap="round"/>
<rect x="821" y="481.4" width="11.5" height="11.5" fill="#ff0000"/>
<rect x="826" y="477.1" width="11.5" height="11.5" fill="#ff0000"/>
<rect x="830.4" y="471.1" width="11.5" height="11.5" fill="#ff0000"/>
<rect x="833.2" y="465.4" width="11.5" height="11.5" fill="#ff0000"/>
<rect x="836.8" y="453.8" width="11.5" height="11.5" fill="#ff0000"/>
<rect x="841.5" y="446.6" width="11.5" height="11.5" fill="#ff0000"/>
<rect x="847.2" y="417.2" width="11.5" height="11.5" fill="#ff0000"/>
<rect x="853.6" y="364.6" width="11.5" height="11.5" fill="#ff0000"/>
<rect x="860.9" y="363.1" width="11.5" height="11.5" fill="#ff0000"/>
<rect x="868.8" y="379.6" width="11.5" height="11.5" fill="#ff0000"/>
<rect x="879.1" y="421.9" width="11.5" height="11.5" fill="#ff0000"/>
<rect x="889" y="481.4" width="11.5" height="11.5" fill="#ff0000"/>
<rect x="904.5" y="505.8" width="11.5" height="11.5" fill="#ff0000"/>
<rect x="924.8" y="506.2" width="11.5" height="11.5" fill="#ff0000"/>
<rect x="949.2" y="507.2" width="11.5" height="11.5" fill="#ff0000"/>
<rect x="982.8" y="507.8" width="11.5" height="11.5" fill="#ff0000"/>
<rect x="1032.7" y="508" width="11.5" height="11.5" fill="#ff0000"/>
<rect x="1110.8" y="508" width="11.5" height="11.5" fill="#ff0000"/>
<rect x="1247.8" y="508" width="11.5" height="11.5" fill="#ff0000"/>
<polyline points="827.7,573.5 830.7,541.5 832,558.8 838.5,512 843.1,567 849,559.5 852.9,531.6 859.4,534 866,548.6 874.5,517 884.3,539.5 894,546 908.7,553.9 928.5,571.3 951.7,564.5 980.9,572.6 1024.6,574.2 1095.9,577.4 1230.6,577.4" fill="none" stroke="#000000" stroke-width="2.6" stroke-linejoin="round" stroke-linecap="round"/>
<polygon points="827.7,567.2 835.5,579.8 820,579.8" fill="#000000"/>
<polygon points="830.7,535.2 838.5,547.8 823,547.8" fill="#000000"/>
<polygon points="832,552.5 839.8,565 824.2,565" fill="#000000"/>
<polygon points="838.5,505.8 846.2,518.2 830.8,518.2" fill="#000000"/>
<polygon points="843.1,560.8 850.9,573.2 835.4,573.2" fill="#000000"/>
<polygon points="849,553.2 856.8,565.8 841.2,565.8" fill="#000000"/>
<polygon points="852.9,525.4 860.6,537.9 845.1,537.9" fill="#000000"/>
<polygon points="859.4,527.8 867.1,540.2 851.6,540.2" fill="#000000"/>
<polygon points="866,542.4 873.8,554.9 858.2,554.9" fill="#000000"/>
<polygon points="874.5,510.8 882.2,523.2 866.8,523.2" fill="#000000"/>
<polygon points="884.3,533.2 892,545.8 876.5,545.8" fill="#000000"/>
<polygon points="894,539.8 901.8,552.2 886.2,552.2" fill="#000000"/>
<polygon points="908.7,547.6 916.5,560.1 901,560.1" fill="#000000"/>
<polygon points="928.5,565 936.2,577.5 920.8,577.5" fill="#000000"/>
<polygon points="951.7,558.2 959.5,570.8 944,570.8" fill="#000000"/>
<polygon points="980.9,566.4 988.6,578.9 973.1,578.9" fill="#000000"/>
<polygon points="1024.6,568 1032.3,580.5 1016.8,580.5" fill="#000000"/>
<polygon points="1095.9,571.1 1103.7,583.6 1088.2,583.6" fill="#000000"/>
<polygon points="1230.6,571.1 1238.3,583.6 1222.8,583.6" fill="#000000"/>
<text x="484.9" y="24.9" style="fill:#0000ff;stroke:#0000ff;font-size:28.3px"><tspan font-style="italic">hm</tspan>-TiO<tspan dy="11" style="font-size:17px">2</tspan><tspan dy="-11"></tspan></text>
<text x="495.8" y="166.7" style="fill:#00ff00;stroke:#00ff00;font-size:28.3px"><tspan font-style="italic">lsm</tspan>-TiO<tspan dy="11" style="font-size:17px">2</tspan><tspan dy="-11">@2.0</tspan></text>
<text x="499" y="280.5" style="fill:#ff0000;stroke:#ff0000;font-size:28.3px"><tspan font-style="italic">lsm</tspan>-TiO<tspan dy="11" style="font-size:17px">2</tspan><tspan dy="-11">@1.5</tspan></text>
<text x="483.2" y="407" style="fill:#000000;stroke:#000000;font-size:28.3px"><tspan font-style="italic">lsm</tspan>-TiO<tspan dy="11" style="font-size:17px">2</tspan><tspan dy="-11">@1.0</tspan></text>
<text x="1096.3" y="287.9" style="fill:#0000ff;stroke:#0000ff;font-size:28.3px"><tspan font-style="italic">hm</tspan>-TiO<tspan dy="11" style="font-size:17px">2</tspan><tspan dy="-11"></tspan></text>
<text x="1082" y="416.7" style="fill:#00ff00;stroke:#00ff00;font-size:28.3px"><tspan font-style="italic">lsm</tspan>-TiO<tspan dy="11" style="font-size:17px">2</tspan><tspan dy="-11">@2.0</tspan></text>
<text x="1089.5" y="480.6" style="fill:#ff0000;stroke:#ff0000;font-size:28.3px"><tspan font-style="italic">lsm</tspan>-TiO<tspan dy="11" style="font-size:17px">2</tspan><tspan dy="-11">@1.5</tspan></text>
<text x="1094.5" y="549.3" style="fill:#000000;stroke:#000000;font-size:28.3px"><tspan font-style="italic">lsm</tspan>-TiO<tspan dy="11" style="font-size:17px">2</tspan><tspan dy="-11">@1.0</tspan></text>
<text x="158.2" y="52.4" style="font-size:33px">(a)</text>
<text x="946.5" y="81.3" style="font-size:33px">(b)</text>
<text x="250.7" y="683.5" style="font-size:23px">Relative Pressure (P/P<tspan dy="-13" style="font-size:12px">o</tspan><tspan dy="13">)</tspan></text>
<text x="928.9" y="678.6" style="font-size:27.7px">Pore size/ nm</text>
<text transform="translate(23,433) rotate(-90)" x="0" y="0" style="font-size:24px">Qantity adsorbed (cm<tspan dy="-10" style="font-size:12px">3</tspan><tspan dy="10">/g STP)</tspan></text>
<text transform="translate(743,423.4) rotate(-90)" x="0" y="0" style="font-size:23.7px">dV/dlog(D) Pore Volume (cm<tspan dy="-10" style="font-size:12px">3</tspan><tspan dy="10">/g.nm)</tspan></text>
</svg></body></html>
